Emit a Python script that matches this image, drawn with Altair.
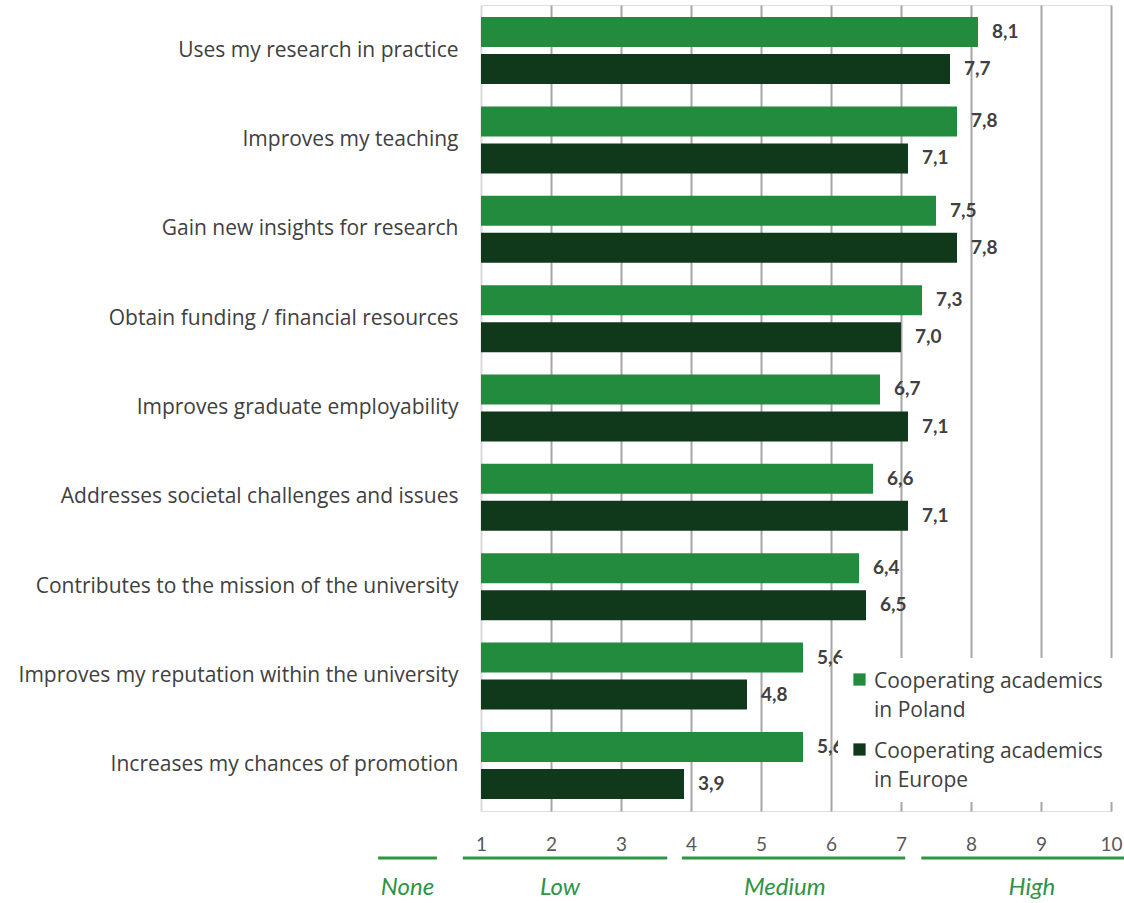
import altair as alt
import pandas as pd

categories = [
    "Uses my research in practice",
    "Improves my teaching",
    "Gain new insights for research",
    "Obtain funding / financial resources",
    "Improves graduate employability",
    "Addresses societal challenges and issues",
    "Contributes to the mission of the university",
    "Improves my reputation within the university",
    "Increases my chances of promotion",
]
series = ["Cooperating academics in Poland", "Cooperating academics in Europe"]
poland = [8.1, 7.8, 7.5, 7.3, 6.7, 6.6, 6.4, 5.6, 5.6]
europe = [7.7, 7.1, 7.8, 7.0, 7.1, 7.1, 6.5, 4.8, 3.9]
colors = ["#228B3D", "#10381A"]

band_names = ["None", "Low", "Medium", "High"]
band_start = [-0.47, 0.74, 3.87, 7.29]
band_end = [0.37, 3.66, 7.06, 10.19]
band_mid = [-0.05, 2.13, 5.34, 8.87]

rows = []
for i, c in enumerate(categories):
    rows.append({"category": c, "series": series[0], "value": poland[i]})
    rows.append({"category": c, "series": series[1], "value": europe[i]})
df = pd.DataFrame(rows)
bands = pd.DataFrame({"name": band_names, "start": band_start, "end": band_end, "mid": band_mid})

W, H = 630, 806
FONT = "Lato"
LFONT = "Open Sans"
SHIFT = 9  # vertical shift applied to all guide labels via style

xscale = alt.Scale(domain=[1, 10], nice=False, zero=False)
yscale = alt.Scale(domain=categories, paddingInner=0.25, paddingOuter=0.135)
yoff = alt.YOffset("series:N", sort=series, scale=alt.Scale(paddingInner=0.19, paddingOuter=0))

base = alt.Chart(df)

bars = base.mark_bar().encode(
    x=alt.X("value:Q", scale=xscale, title=None,
            axis=alt.Axis(values=list(range(1, 11)), format="d", labelFlush=False, grid=True,
                          gridColor=alt.condition("datum.value == 1", alt.value("#D9D9D9"), alt.value("#A6A6A6")),
                          gridWidth=2, domain=False, ticks=False,
                          labelPadding=24 + SHIFT, labelFontSize=19, labelColor="#595959", labelFont=FONT)),
    x2=alt.datum(1),
    y=alt.Y("category:N", scale=yscale, sort=categories, title=None,
            axis=alt.Axis(domain=False, ticks=False, labelPadding=23, labelFontSize=21,
                          labelOffset=SHIFT,
                          labelColor="#404040", labelFont=LFONT, labelLimit=600)),
    yOffset=yoff,
    color=alt.Color("series:N", sort=series, scale=alt.Scale(domain=series, range=colors),
                    legend=alt.Legend(title=None, orient="none", legendX=357, legendY=653,
                                      fillColor="white", padding=11, symbolType="square",
                                      symbolSize=150, symbolStrokeWidth=0, labelFontSize=21,
                                      labelFont=LFONT, labelColor="#404040", labelLimit=400,
                                      labelExpr="[slice(datum.label,0,21), slice(datum.label,22)]",
                                      rowPadding=18, labelBaseline="top")),
)

labels = base.mark_text(align="left", dx=14, fontSize=19, fontWeight="bold",
                        color="#404040", font=FONT).transform_calculate(
    lab="replace(format(datum.value, '.1f'), '.', ',')"
).encode(
    x=alt.X("value:Q", scale=xscale),
    y=alt.Y("category:N", scale=yscale, sort=categories),
    yOffset=yoff,
    text="lab:N",
)

band_lines = alt.Chart(bands).mark_rule(color="#2E9446", strokeWidth=3).encode(
    x=alt.X("start:Q", scale=xscale), x2="end:Q", y=alt.value(853)
)
band_text = alt.Chart(bands).mark_text(color="#2E9446", fontSize=24, fontStyle="italic",
                                       font=FONT, baseline="middle").encode(
    x=alt.X("mid:Q", scale=xscale), y=alt.value(883), text="name:N"
)

chart = alt.layer(labels, bars, band_lines, band_text).properties(
    width=W, height=H,
    autosize=alt.AutoSizeParams(type="none"),
    padding={"left": 481, "top": 5, "right": 13, "bottom": 92},
).configure_view(stroke=None).configure(
    style={"guide-label": {"lineHeight": 29, "dy": -SHIFT}}
)

chart.save("out.html", embed_options={"renderer": "svg", "actions": False})
